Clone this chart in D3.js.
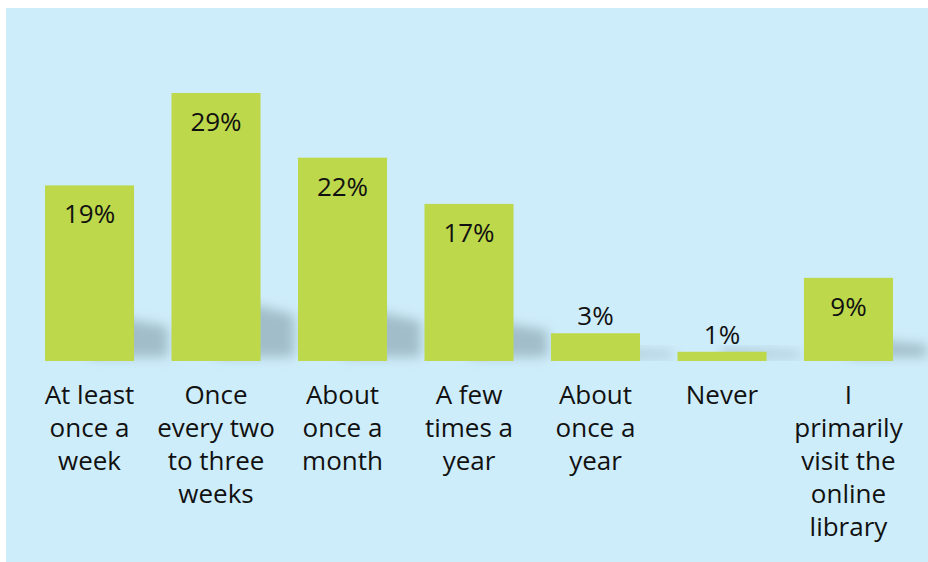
<!DOCTYPE html>
<html>
<head>
<meta charset="utf-8">
<script src="https://cdn.jsdelivr.net/npm/d3@7"></script>
<style>
  html, body { margin: 0; padding: 0; background: #fff; }
  svg { display: block; }
</style>
</head>
<body>
<svg id="chart"></svg>
<script>
// survey answers
const categories = [
  ["At least", "once a", "week"],
  ["Once", "every two", "to three", "weeks"],
  ["About", "once a", "month"],
  ["A few", "times a", "year"],
  ["About", "once a", "year"],
  ["Never"],
  ["I", "primarily", "visit the", "online", "library"]
];
const values = [19, 29, 22, 17, 3, 1, 9];

function drawChart() {
  const W = 928, H = 562;
  const baseY = 361;

  const svg = d3.select('#chart')
    .attr('width', W)
    .attr('height', H);

  const defs = svg.append('defs');
  defs.append('filter')
    .attr('id', 'blur')
    .attr('x', '-50%').attr('y', '-50%')
    .attr('width', '200%').attr('height', '200%')
    .append('feGaussianBlur')
    .attr('stdDeviation', 6);

  // panel
  svg.append('rect')
    .attr('x', 6)
    .attr('y', 8)
    .attr('width', W - 6)
    .attr('height', H - 8)
    .attr('fill', '#CEEDFA');

  const x = d3.scaleBand()
    .domain(d3.range(values.length))
    .range([45, 893])
    .paddingInner(0.296)
    .paddingOuter(0);

  const y = d3.scaleLinear()
    .domain([0, 29])
    .range([baseY, 93]);

  // soft shadows behind the bars
  svg.append('g')
    .selectAll('path')
    .data(values)
    .join('path')
    .attr('d', (d, i) => {
      const x0 = x(i) + x.bandwidth() * 0.5;
      const x1 = x(i) + x.bandwidth() + 34;
      const h = Math.min(66, Math.max(12, (baseY - y(d)) * 0.28));
      const top = baseY - h;
      return `M${x0},${top} L${x1},${top + h * 0.3} L${x1},${baseY - 4} L${x0},${baseY - 4} Z`;
    })
    .attr('fill', '#8fa9b6')
    .attr('opacity', 0.7)
    .attr('filter', 'url(#blur)');

  // bars
  svg.append('g')
    .selectAll('rect')
    .data(values)
    .join('rect')
    .attr('x', (d, i) => x(i))
    .attr('y', d => y(d))
    .attr('width', x.bandwidth())
    .attr('height', d => baseY - y(d))
    .attr('fill', '#BDD84A');

  // value labels
  svg.append('g')
    .selectAll('text')
    .data(values)
    .join('text')
    .attr('x', (d, i) => x(i) + x.bandwidth() / 2)
    .attr('y', d => d > 5 ? y(d) + 38 : y(d) - 8)
    .attr('text-anchor', 'middle')
    .attr('font-family', 'Open Sans, sans-serif')
    .attr('font-size', '26px')
    .attr('fill', '#111')
    .text(d => d + '%');

  // category labels
  const cat = svg.append('g')
    .selectAll('text')
    .data(categories)
    .join('text')
    .attr('x', (d, i) => x(i) + x.bandwidth() / 2)
    .attr('y', 404)
    .attr('text-anchor', 'middle')
    .attr('font-family', 'Open Sans, sans-serif')
    .attr('font-size', '26px')
    .attr('fill', '#111');

  cat.each(function (lines, i) {
    d3.select(this).selectAll('tspan')
      .data(lines)
      .join('tspan')
      .attr('x', x(i) + x.bandwidth() / 2)
      .attr('dy', (l, j) => j === 0 ? 0 : 33)
      .text(l => l);
  });
}

drawChart();
</script>
</body>
</html>
